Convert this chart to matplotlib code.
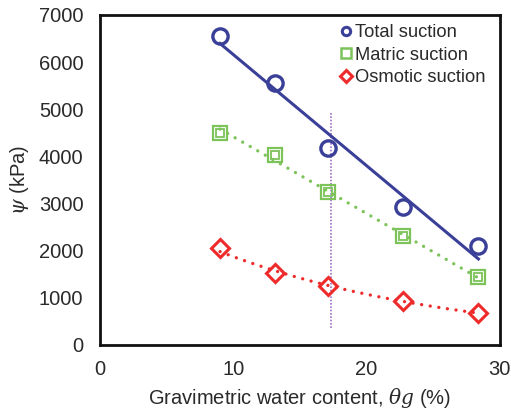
import numpy as np
import matplotlib
matplotlib.use("Agg")
import matplotlib.pyplot as plt

plt.rcParams['font.family'] = ['Liberation Sans', 'DejaVu Sans']
plt.rcParams['mathtext.fontset'] = 'custom'
plt.rcParams['mathtext.it'] = 'DejaVu Serif:italic'

water_content = [9.0, 13.1, 17.1, 22.7, 28.4]
total_suction = [6550, 5550, 4170, 2920, 2100]
matric_suction = [4500, 4030, 3250, 2300, 1430]
osmotic_suction = [2050, 1520, 1240, 930, 680]
vline_x = 17.3
vline_y = [350, 4950]
x_ticks = [0, 10, 20, 30]
y_ticks = [0, 1000, 2000, 3000, 4000, 5000, 6000, 7000]

blue = '#3a3f98'
green = '#7cc35a'
red = '#ee2a2a'
purple = '#a070c8'
txt = '#2a2a2a'

fig = plt.figure(figsize=(5.11, 4.13), dpi=100)
ax = fig.add_axes([0.196, 0.165, 0.782, 0.799])

x = np.array(water_content)
xs = np.linspace(x.min(), x.max(), 100)

# trend lines from data
pt = np.polyfit(x, total_suction, 1)
ax.plot(xs, np.polyval(pt, xs), color=blue, lw=2.2, zorder=2)
pm = np.polyfit(x, matric_suction, 1)
ax.plot(xs, np.polyval(pm, xs), color=green, lw=2.4, ls=(0, (0.01, 2.6)),
        dash_capstyle='round', zorder=2)
po = np.polyfit(x, np.log(osmotic_suction), 1)
ax.plot(xs, np.exp(np.polyval(po, xs)), color=red, lw=2.4,
        ls=(0, (0.01, 2.6)), dash_capstyle='round', zorder=2)

ax.plot([vline_x, vline_x], vline_y, color=purple, lw=1.2, ls=(0, (1, 1)), zorder=1)

ax.plot(x, total_suction, ls='none', marker='o', ms=11, mfc='none', mec=blue,
        mew=2.4, zorder=3)
ax.plot(x, matric_suction, ls='none', marker='s', ms=10, mfc='none', mec=green,
        mew=1.6, zorder=3)
ax.plot(x, matric_suction, ls='none', marker='s', ms=5.5, mfc='none', mec=green,
        mew=1.3, zorder=3)
ax.plot(x, osmotic_suction, ls='none', marker='D', ms=9, mfc='none', mec=red,
        mew=2.2, zorder=3)

# legend proxies
h1, = ax.plot([], [], ls='none', marker='o', ms=6, mfc='none', mec=blue, mew=2.2)
h2, = ax.plot([], [], ls='none', marker='s', ms=7, mfc='none', mec=green, mew=1.8)
h3, = ax.plot([], [], ls='none', marker='D', ms=6, mfc='none', mec=red, mew=2.2)
leg = ax.legend([h1, h2, h3], ['Total suction', 'Matric suction', 'Osmotic suction'],
                loc='upper right', bbox_to_anchor=(0.965, 0.972), frameon=False,
                fontsize=13.2, handlelength=0.6, handletextpad=0.2,
                labelspacing=0.3, borderaxespad=0.0, borderpad=0.0)
for t in leg.get_texts():
    t.set_color(txt)

ax.set_xlim(0, 30)
ax.set_ylim(0, 7000)
ax.set_xticks(x_ticks)
ax.set_yticks(y_ticks)
ax.tick_params(length=0, labelsize=14.5, colors=txt)
ax.tick_params(axis='y', pad=12)
ax.tick_params(axis='x', pad=11)
for s in ax.spines.values():
    s.set_linewidth(2.0)
    s.set_color('#111111')

ax.set_xlabel(r'Gravimetric water content, $\theta g$ (%)', fontsize=14.5,
              color=txt, labelpad=5)
ax.set_ylabel(r'$\psi$ (kPa)', fontsize=14.5, color=txt, labelpad=6)

fig.savefig('out.png', dpi=100)
